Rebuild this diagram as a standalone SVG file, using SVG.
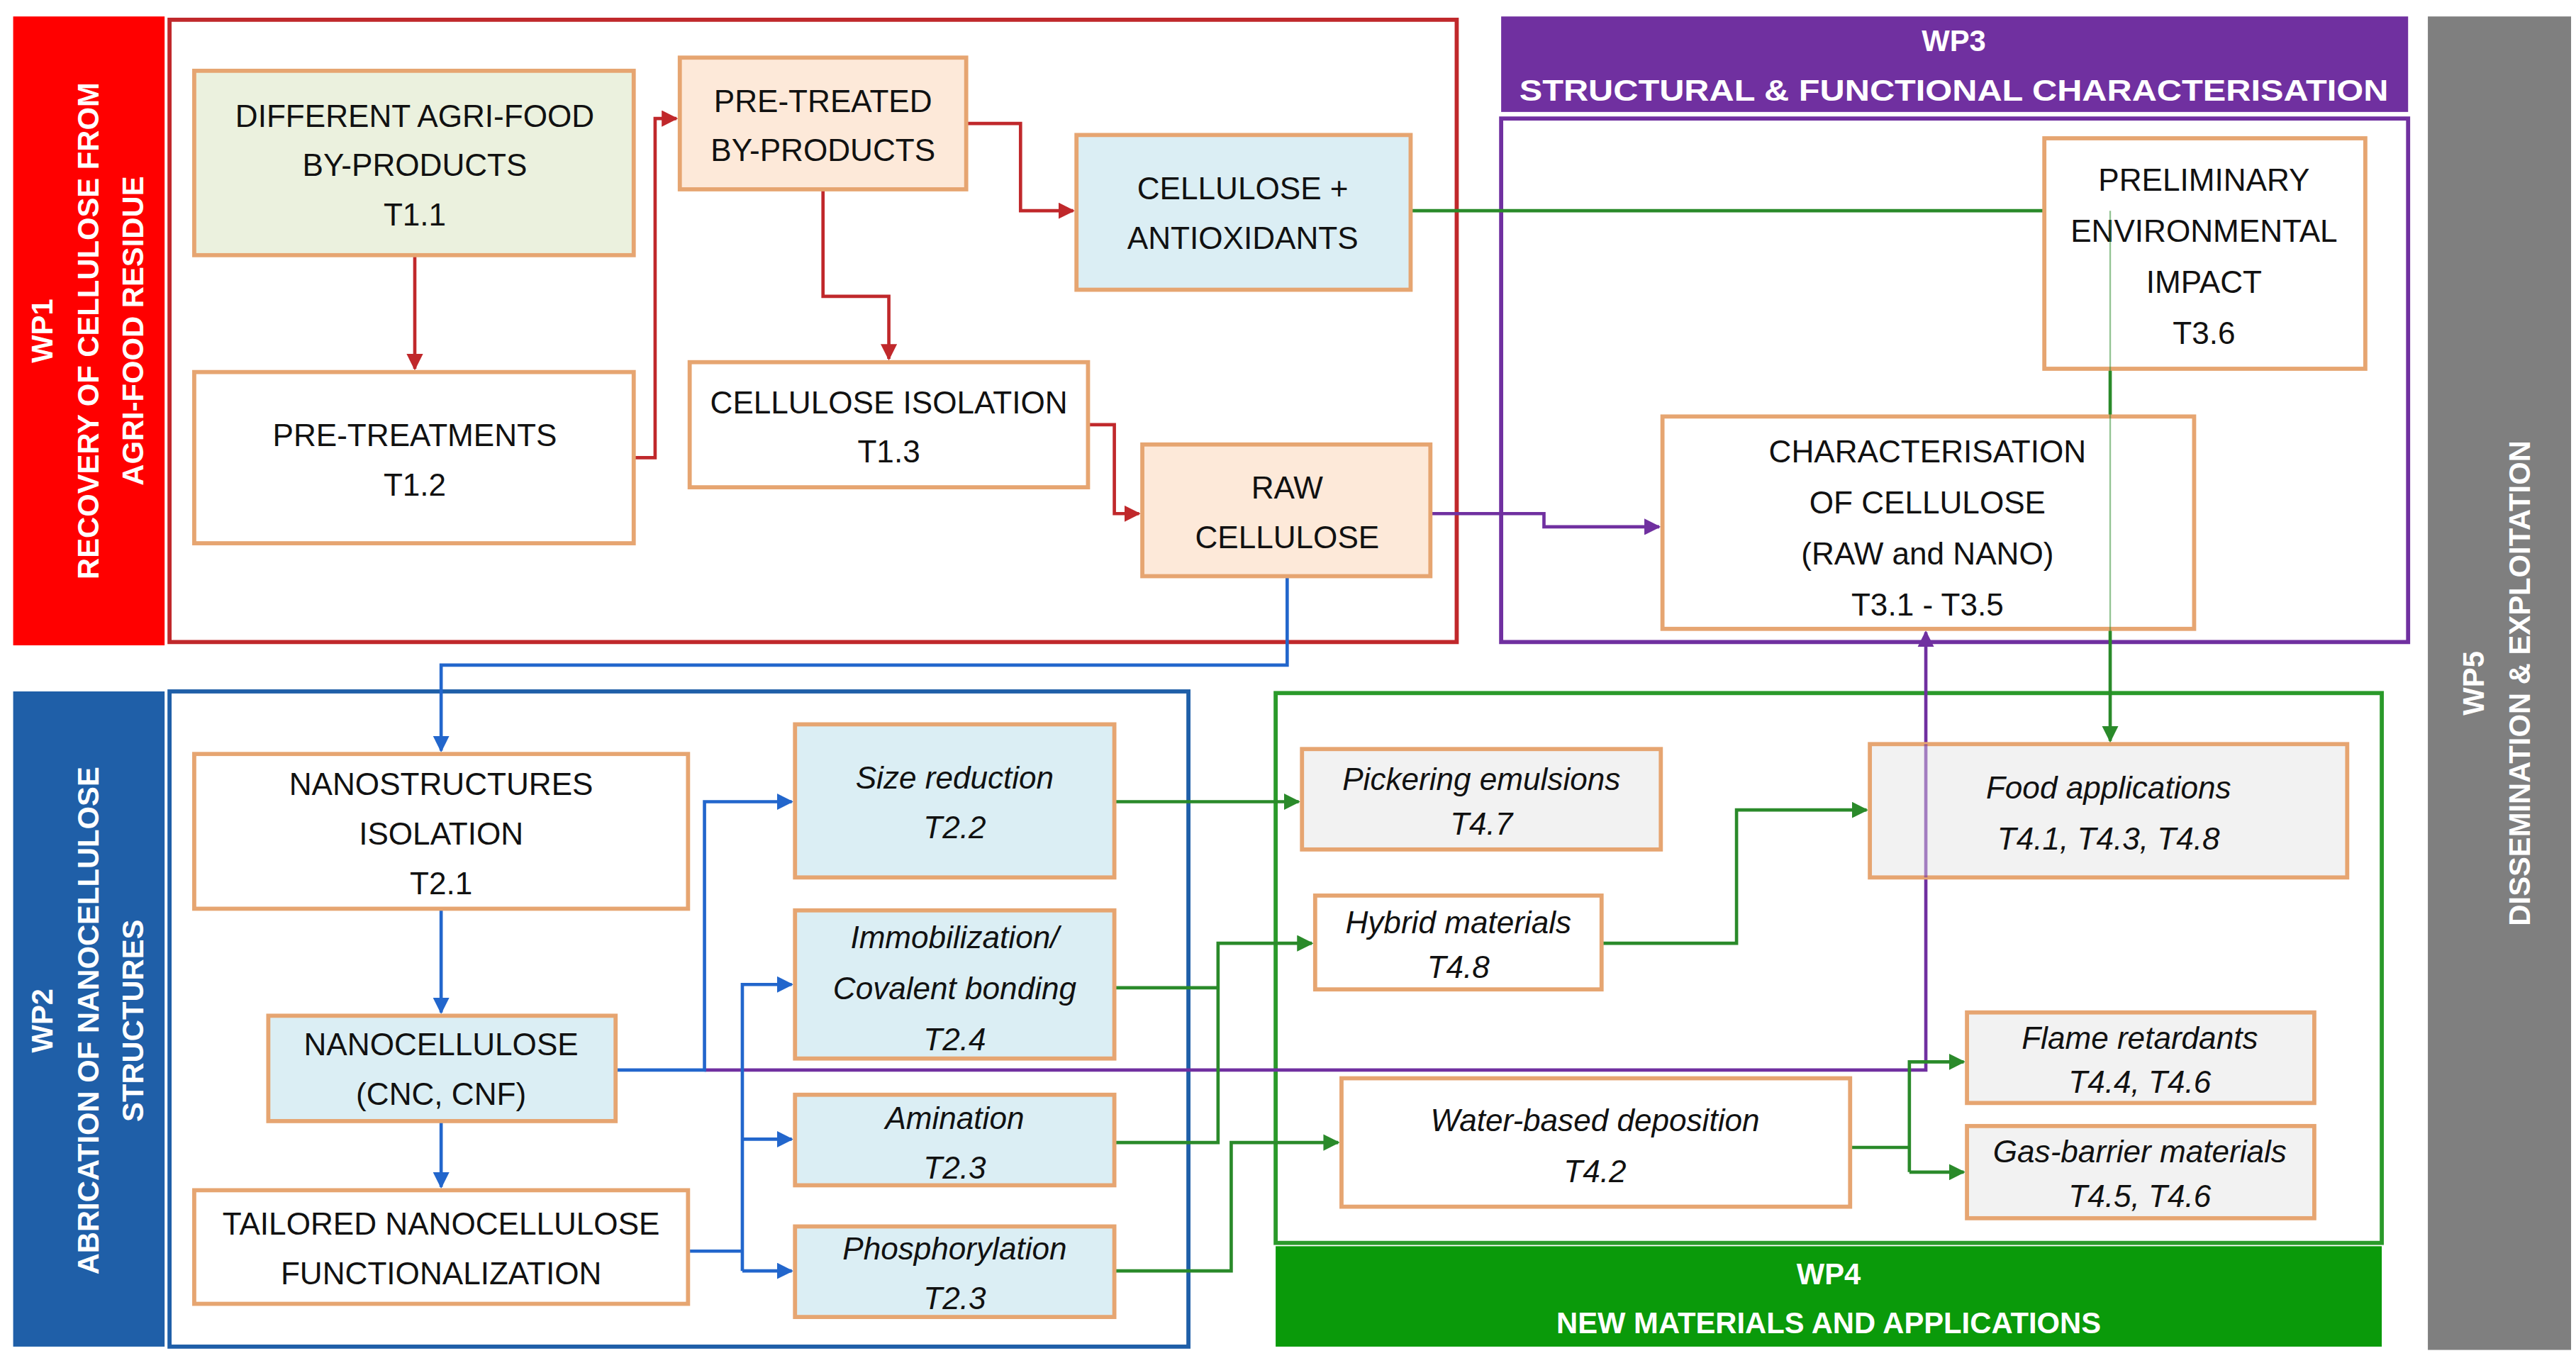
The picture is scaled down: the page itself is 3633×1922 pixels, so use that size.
<svg xmlns="http://www.w3.org/2000/svg" width="3633" height="1922" viewBox="0 0 3633 1922">
<defs>
<style>
.t{font-family:"Liberation Sans",Arial,sans-serif;font-size:19px;fill:#111;text-anchor:middle}
.i{font-style:italic}
.h{font-family:"Liberation Sans",Arial,sans-serif;font-weight:bold;fill:#fff;text-anchor:middle;font-size:18px}
.n{stroke:#E6A571;stroke-width:2.5}
.r{fill:none;stroke:#C0282B;stroke-width:2}
.b{fill:none;stroke:#2266CC;stroke-width:2}
.g{fill:none;stroke:#2A8A2A;stroke-width:2}
.p{fill:none;stroke:#7030A0;stroke-width:2}
</style>
<marker id="ar" viewBox="0 0 10 10" refX="9" refY="5" markerWidth="5" markerHeight="5" orient="auto"><path d="M0,0L10,5L0,10z" fill="#C0282B"/></marker>
<marker id="ab" viewBox="0 0 10 10" refX="9" refY="5" markerWidth="5" markerHeight="5" orient="auto"><path d="M0,0L10,5L0,10z" fill="#2266CC"/></marker>
<marker id="ag" viewBox="0 0 10 10" refX="9" refY="5" markerWidth="5" markerHeight="5" orient="auto"><path d="M0,0L10,5L0,10z" fill="#2A8A2A"/></marker>
<marker id="ap" viewBox="0 0 10 10" refX="9" refY="5" markerWidth="5" markerHeight="5" orient="auto"><path d="M0,0L10,5L0,10z" fill="#7030A0"/></marker>
</defs>
<rect width="3633" height="1922" fill="#fff"/>
<g transform="scale(2.32141)">
<g id="wp1">
<rect x="8" y="10" width="92" height="382" fill="#FF0000"/>
<rect x="103" y="12" width="782" height="378" fill="none" stroke="#C0282B" stroke-width="2.5"/>
<g transform="translate(54,201) rotate(-90)"><text class="h" y="-22" font-size="17">WP1</text><text class="h" y="6" font-size="17">RECOVERY OF CELLULOSE FROM</text><text class="h" y="33" font-size="17">AGRI-FOOD RESIDUE</text></g>
</g>
<g id="wp3">
<rect x="912" y="10" width="551" height="58" fill="#7030A0"/>
<rect x="912" y="72" width="551" height="318" fill="none" stroke="#7030A0" stroke-width="2.5"/>
<text class="h" x="1187" y="31">WP3</text>
<text class="h" x="1187" y="61" textLength="528" lengthAdjust="spacingAndGlyphs">STRUCTURAL &amp; FUNCTIONAL CHARACTERISATION</text>
</g>
<g id="wp5">
<rect x="1475" y="10" width="87" height="810" fill="#7F7F7F"/>
<g transform="translate(1517,415) rotate(-90)"><text class="h" y="-8" font-size="17">WP5</text><text class="h" y="20" font-size="17">DISSEMINATION &amp; EXPLOITATION</text></g>
</g>
<g id="wp2">
<rect x="8" y="420" width="92" height="398" fill="#1F5FA8"/>
<rect x="103" y="420" width="619" height="398" fill="none" stroke="#1F5FA8" stroke-width="2.5"/>
<g transform="translate(54,620) rotate(-90)"><text class="h" y="-22" font-size="17">WP2</text><text class="h" y="6" font-size="17">ABRICATION OF NANOCELLULOSE</text><text class="h" y="33" font-size="17">STRUCTURES</text></g>
</g>
<g id="wp4">
<rect x="775" y="421" width="672" height="334" fill="none" stroke="#2A9A2A" stroke-width="2.5"/>
<rect x="775" y="757" width="672" height="61" fill="#0A9A0A"/>
<text class="h" x="1111" y="780">WP4</text>
<text class="h" x="1111" y="810">NEW MATERIALS AND APPLICATIONS</text>
</g>
<g id="connectors">
<path class="r" d="M252,155V224" marker-end="url(#ar)"/>
<path class="r" d="M385,278H398V72H411" marker-end="url(#ar)"/>
<path class="r" d="M587,75H620V128H652" marker-end="url(#ar)"/>
<path class="r" d="M500,115V180H540V218" marker-end="url(#ar)"/>
<path class="r" d="M661,258H677V312H692" marker-end="url(#ar)"/>
<path class="g" d="M857,128H1242"/>
<path class="g" d="M1282,224V450" marker-end="url(#ag)"/>
<path class="p" d="M869,312H938V320H1008" marker-end="url(#ap)"/>
<path class="b" d="M782,350V404H268V456" marker-end="url(#ab)"/>
<path class="b" d="M268,552V615" marker-end="url(#ab)"/>
<path class="b" d="M268,681V721" marker-end="url(#ab)"/>
<path class="p" d="M428,650H1170V384" marker-end="url(#ap)"/>
<path class="b" d="M374,650H428V487H481" marker-end="url(#ab)"/>
<path class="b" d="M418,760H451"/>
<path class="b" d="M451,772V598H481" marker-end="url(#ab)"/>
<path class="b" d="M451,692H481" marker-end="url(#ab)"/>
<path class="b" d="M451,772H481" marker-end="url(#ab)"/>
<path class="g" d="M677,487H789" marker-end="url(#ag)"/>
<path class="g" d="M677,600H740"/>
<path class="g" d="M677,694H740V573H797" marker-end="url(#ag)"/>
<path class="g" d="M677,772H748V694H813" marker-end="url(#ag)"/>
<path class="g" d="M973,573H1055V492H1134" marker-end="url(#ag)"/>
<path class="g" d="M1124,697H1160"/>
<path class="g" d="M1160,712V645H1193" marker-end="url(#ag)"/>
<path class="g" d="M1160,712H1193" marker-end="url(#ag)"/>
</g>
<g id="t11"><rect class="n" x="118" y="43" width="267" height="112" fill="#EBF1DE"/><text class="t" x="252" y="77">DIFFERENT AGRI-FOOD</text><text class="t" x="252" y="107">BY-PRODUCTS</text><text class="t" x="252" y="137">T1.1</text></g>
<g id="t12"><rect class="n" x="118" y="226" width="267" height="104" fill="#fff"/><text class="t" x="252" y="271">PRE-TREATMENTS</text><text class="t" x="252" y="301">T1.2</text></g>
<g id="pretreated"><rect class="n" x="413" y="35" width="174" height="80" fill="#FDE9D9"/><text class="t" x="500" y="68">PRE-TREATED</text><text class="t" x="500" y="98">BY-PRODUCTS</text></g>
<g id="antiox"><rect class="n" x="654" y="82" width="203" height="94" fill="#DBEEF4"/><text class="t" x="755" y="121">CELLULOSE +</text><text class="t" x="755" y="151">ANTIOXIDANTS</text></g>
<g id="t13"><rect class="n" x="419" y="220" width="242" height="76" fill="#fff"/><text class="t" x="540" y="251">CELLULOSE ISOLATION</text><text class="t" x="540" y="281">T1.3</text></g>
<g id="raw"><rect class="n" x="694" y="270" width="175" height="80" fill="#FDE9D9"/><text class="t" x="782" y="303">RAW</text><text class="t" x="782" y="333">CELLULOSE</text></g>
<g id="t36"><rect class="n" x="1242" y="84" width="195" height="140" fill="#fff"/><text class="t" x="1339" y="116">PRELIMINARY</text><text class="t" x="1339" y="147">ENVIRONMENTAL</text><text class="t" x="1339" y="178">IMPACT</text><text class="t" x="1339" y="209">T3.6</text></g>
<g id="t31"><rect class="n" x="1010" y="253" width="323" height="129" fill="#fff"/><text class="t" x="1171" y="281">CHARACTERISATION</text><text class="t" x="1171" y="312">OF CELLULOSE</text><text class="t" x="1171" y="343">(RAW and NANO)</text><text class="t" x="1171" y="374">T3.1 - T3.5</text></g>
<path d="M1282,128V452" stroke="#2A8A2A" stroke-width="1" opacity="0.5"/>
<g id="t21"><rect class="n" x="118" y="458" width="300" height="94" fill="#fff"/><text class="t" x="268" y="483">NANOSTRUCTURES</text><text class="t" x="268" y="513">ISOLATION</text><text class="t" x="268" y="543">T2.1</text></g>
<g id="t22"><rect class="n" x="483" y="440" width="194" height="93" fill="#DBEEF4"/><text class="t i" x="580" y="479">Size reduction</text><text class="t i" x="580" y="509">T2.2</text></g>
<g id="t24"><rect class="n" x="483" y="553" width="194" height="90" fill="#DBEEF4"/><text class="t i" x="580" y="576">Immobilization/</text><text class="t i" x="580" y="607">Covalent bonding</text><text class="t i" x="580" y="638">T2.4</text></g>
<g id="nano"><rect class="n" x="163" y="617" width="211" height="64" fill="#DBEEF4"/><text class="t" x="268" y="641">NANOCELLULOSE</text><text class="t" x="268" y="671">(CNC, CNF)</text></g>
<g id="t23a"><rect class="n" x="483" y="665" width="194" height="55" fill="#DBEEF4"/><text class="t i" x="580" y="686">Amination</text><text class="t i" x="580" y="716">T2.3</text></g>
<g id="tailored"><rect class="n" x="118" y="723" width="300" height="69" fill="#fff"/><text class="t" x="268" y="750">TAILORED NANOCELLULOSE</text><text class="t" x="268" y="780">FUNCTIONALIZATION</text></g>
<g id="t23p"><rect class="n" x="483" y="745" width="194" height="55" fill="#DBEEF4"/><text class="t i" x="580" y="765">Phosphorylation</text><text class="t i" x="580" y="795">T2.3</text></g>
<g id="t47"><rect class="n" x="791" y="455" width="218" height="61" fill="#F2F2F2"/><text class="t i" x="900" y="480" font-size="16">Pickering emulsions</text><text class="t i" x="900" y="507" font-size="16">T4.7</text></g>
<g id="t48"><rect class="n" x="799" y="544" width="174" height="57" fill="#fff"/><text class="t i" x="886" y="567" font-size="16">Hybrid materials</text><text class="t i" x="886" y="594" font-size="16">T4.8</text></g>
<g id="food"><rect class="n" x="1136" y="452" width="290" height="81" fill="#F2F2F2"/><text class="t i" x="1281" y="485">Food applications</text><text class="t i" x="1281" y="516">T4.1, T4.3, T4.8</text></g>
<path d="M1170,452V533" stroke="#7030A0" stroke-width="2" opacity="0.6"/>
<g id="flame"><rect class="n" x="1195" y="615" width="211" height="55" fill="#F2F2F2"/><text class="t i" x="1300" y="637" font-size="16">Flame retardants</text><text class="t i" x="1300" y="664" font-size="16">T4.4, T4.6</text></g>
<g id="gas"><rect class="n" x="1195" y="684" width="211" height="56" fill="#F2F2F2"/><text class="t i" x="1300" y="706" font-size="16">Gas-barrier materials</text><text class="t i" x="1300" y="733" font-size="16">T4.5, T4.6</text></g>
<g id="t42"><rect class="n" x="815" y="655" width="309" height="78" fill="#fff"/><text class="t i" x="969" y="687">Water-based deposition</text><text class="t i" x="969" y="718">T4.2</text></g>
</g>
</svg>
